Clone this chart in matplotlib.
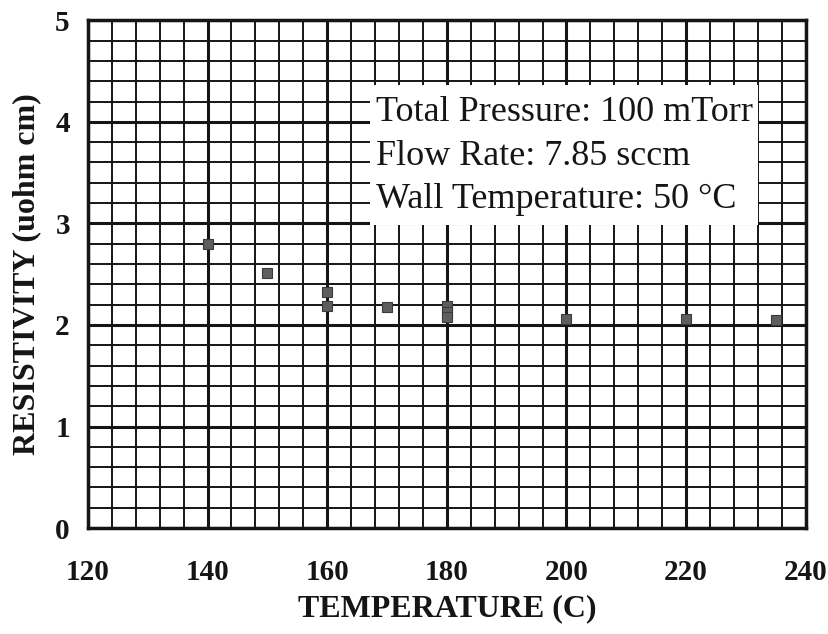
import matplotlib.pyplot as plt
from matplotlib.patches import Rectangle
from matplotlib.ticker import MultipleLocator

# resistivity readings
temps = [140, 150, 160, 160, 170, 180, 180, 180, 200, 220, 235]
resist = [2.80, 2.51, 2.32, 2.19, 2.18, 2.19, 2.13, 2.08, 2.06, 2.06, 2.05]

notes = ["Total Pressure: 100 mTorr",
         "Flow Rate: 7.85 sccm",
         "Wall Temperature: 50 \u00b0C"]

serif = ['Liberation Serif', 'DejaVu Serif']
ink = '#151515'

fig = plt.figure(figsize=(8.29, 6.34), dpi=100)
ax = fig.add_axes([0.106, 0.167, 0.866, 0.801])

ax.plot(temps, resist, 's', ms=7, mfc='#5e5e5e', mec='#3a3a3a', mew=0.8,
        zorder=4, clip_on=False)

ax.set_xlim(120, 240)
ax.set_ylim(0, 5)
ax.xaxis.set_major_locator(MultipleLocator(20))
ax.xaxis.set_minor_locator(MultipleLocator(4))
ax.yaxis.set_major_locator(MultipleLocator(1))
ax.yaxis.set_minor_locator(MultipleLocator(0.2))
ax.grid(which='major', color=ink, lw=2.2)
ax.grid(which='minor', color=ink, lw=1.4)
ax.set_axisbelow(True)
ax.tick_params(which='both', length=0)
ax.tick_params(axis='x', pad=22)
ax.tick_params(axis='y', pad=13)
for lab in ax.get_xticklabels() + ax.get_yticklabels():
    lab.set_family(serif)
    lab.set_fontweight('bold')
    lab.set_fontsize(21)
    lab.set_color(ink)
for sp in ax.spines.values():
    sp.set_linewidth(2.5)
    sp.set_color(ink)

ax.set_xlabel("TEMPERATURE (C)", family=serif, fontweight='bold',
              fontsize=23, color=ink, labelpad=6)
ax.set_ylabel("RESISTIVITY (uohm cm)", family=serif, fontweight='bold',
              fontsize=23, color=ink, labelpad=10)

# white box behind the run conditions
ax.add_patch(Rectangle((0.393, 0.596), 0.54, 0.276, transform=ax.transAxes,
                       fc='white', ec='none', zorder=3))
for ypos, txt in zip([0.818, 0.731, 0.647], notes):
    ax.text(0.402, ypos, txt, transform=ax.transAxes, family=serif,
            fontsize=26, color=ink, va='center', ha='left', zorder=5)

fig.savefig('out.png', dpi=100)
